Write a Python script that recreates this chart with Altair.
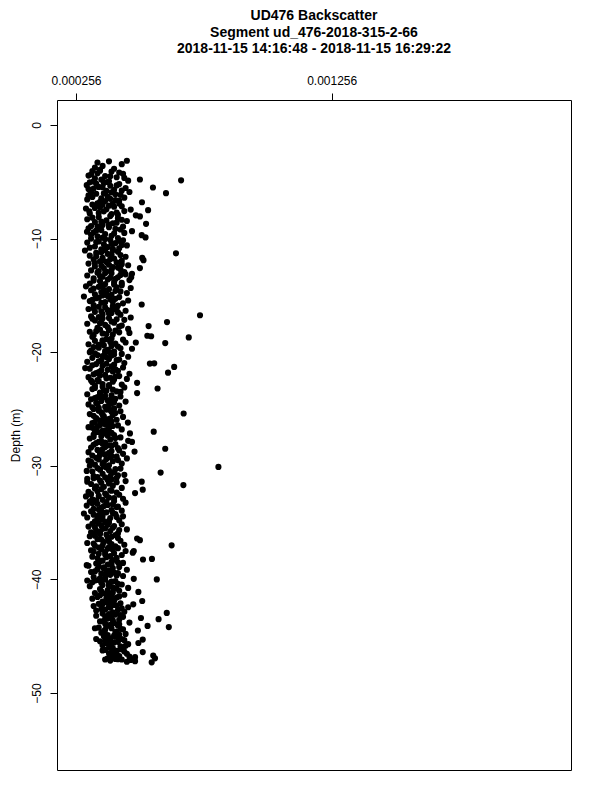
import altair as alt
import pandas as pd

title_lines = [
    "UD476 Backscatter",
    "Segment ud_476-2018-315-2-66",
    "2018-11-15 14:16:48 - 2018-11-15 16:29:22",
]
x_ticks = [0.000256, 0.001256]
y_ticks = [0, -10, -20, -30, -40, -50]

# depth (m) and backscatter values, read band by band (1 m bands)
depth = [
    -3.15, -3.2, -3.3, -3.45, -3.6, -3.75, -3.85, -3.95,
    -4.05, -4.1, -4.25, -4.3, -4.45, -4.5, -4.6, -4.7, -4.8, -4.9, -4.95,
    -5.05, -5.1, -5.2, -5.3, -5.35, -5.45, -5.55, -5.6, -5.7, -5.8, -5.9, -5.95,
    -6.05, -6.1, -6.2, -6.3, -6.4, -6.45, -6.55, -6.65, -6.7, -6.8, -6.9, -6.95,
    -7.0, -7.1, -7.15, -7.25, -7.35, -7.45, -7.5, -7.6, -7.7, -7.8, -7.85, -7.95,
    -8.05, -8.1, -8.2, -8.3, -8.4, -8.45, -8.55, -8.65, -8.7, -8.8, -8.9, -8.95,
    -9.0, -9.1, -9.2, -9.25, -9.35, -9.45, -9.55, -9.6, -9.7, -9.8, -9.9, -9.95,
    -10.0, -10.1, -10.15, -10.25, -10.35, -10.4, -10.5, -10.6, -10.7, -10.75, -10.85, -10.95,
    -11.0, -11.05, -11.15, -11.25, -11.3, -11.4, -11.5, -11.6, -11.7, -11.75, -11.85, -11.95,
    -12.0, -12.1, -12.2, -12.3, -12.35, -12.45, -12.5, -12.6, -12.7, -12.8, -12.9, -12.95,
    -13.0, -13.05, -13.15, -13.25, -13.35, -13.4, -13.5, -13.6, -13.65, -13.75, -13.85, -13.95,
    -14.0, -14.1, -14.2, -14.25, -14.35, -14.45, -14.55, -14.6, -14.7, -14.8, -14.9, -14.95,
    -15.0, -15.1, -15.15, -15.25, -15.35, -15.45, -15.5, -15.6, -15.7, -15.8, -15.85, -15.95,
    -16.0, -16.1, -16.2, -16.3, -16.35, -16.45, -16.55, -16.65, -16.7, -16.75, -16.85, -16.95,
    -17.0, -17.05, -17.15, -17.25, -17.35, -17.4, -17.5, -17.6, -17.7, -17.75, -17.85, -17.95,
    -18.0, -18.1, -18.2, -18.3, -18.4, -18.5, -18.55, -18.6, -18.7, -18.8, -18.9, -18.95,
    -19.0, -19.1, -19.15, -19.2, -19.3, -19.4, -19.5, -19.6, -19.7, -19.8, -19.85, -19.95,
    -20.0, -20.05, -20.15, -20.25, -20.3, -20.4, -20.5, -20.6, -20.7, -20.75, -20.85, -20.95,
    -21.0, -21.05, -21.1, -21.2, -21.3, -21.35, -21.45, -21.55, -21.65, -21.75, -21.8, -21.9, -21.95,
    -22.0, -22.1, -22.2, -22.25, -22.35, -22.45, -22.5, -22.6, -22.7, -22.8, -22.85, -22.95,
    -23.0, -23.1, -23.2, -23.25, -23.35, -23.45, -23.55, -23.6, -23.7, -23.8, -23.9, -23.95,
    -24.0, -24.1, -24.15, -24.25, -24.35, -24.45, -24.5, -24.6, -24.7, -24.8, -24.9, -24.95,
    -25.0, -25.1, -25.2, -25.3, -25.4, -25.45, -25.55, -25.65, -25.7, -25.8, -25.9, -25.95,
    -26.0, -26.1, -26.2, -26.25, -26.35, -26.45, -26.55, -26.6, -26.7, -26.8, -26.9, -26.95,
    -27.0, -27.05, -27.15, -27.25, -27.3, -27.4, -27.5, -27.6, -27.7, -27.8, -27.9, -27.95,
    -28.0, -28.1, -28.2, -28.3, -28.4, -28.5, -28.55, -28.65, -28.7, -28.8, -28.9, -28.95,
    -29.0, -29.1, -29.2, -29.25, -29.35, -29.45, -29.55, -29.6, -29.7, -29.8, -29.9, -29.95,
    -30.0, -30.1, -30.15, -30.25, -30.35, -30.45, -30.55, -30.6, -30.7, -30.8, -30.9, -30.95,
    -31.0, -31.05, -31.15, -31.25, -31.35, -31.4, -31.5, -31.6, -31.7, -31.75, -31.85, -31.95,
    -32.0, -32.1, -32.2, -32.3, -32.4, -32.45, -32.55, -32.65, -32.7, -32.8, -32.9, -32.95,
    -33.0, -33.1, -33.15, -33.25, -33.35, -33.45, -33.5, -33.6, -33.7, -33.8, -33.9, -33.95,
    -34.0, -34.1, -34.2, -34.25, -34.35, -34.45, -34.55, -34.6, -34.7, -34.8, -34.9, -34.95,
    -35.0, -35.1, -35.15, -35.25, -35.35, -35.45, -35.5, -35.6, -35.7, -35.75, -35.85, -35.95,
    -36.0, -36.1, -36.2, -36.3, -36.4, -36.45, -36.55, -36.6, -36.7, -36.8, -36.9, -36.95,
    -37.0, -37.05, -37.15, -37.25, -37.35, -37.45, -37.5, -37.6, -37.7, -37.75, -37.85, -37.95,
    -38.0, -38.1, -38.2, -38.25, -38.35, -38.45, -38.55, -38.6, -38.7, -38.8, -38.9, -38.95,
    -39.0, -39.1, -39.15, -39.25, -39.35, -39.45, -39.5, -39.6, -39.7, -39.8, -39.85, -39.95,
    -40.0, -40.05, -40.15, -40.25, -40.35, -40.45, -40.5, -40.6, -40.7, -40.75, -40.85, -40.95,
    -41.0, -41.1, -41.2, -41.25, -41.35, -41.45, -41.55, -41.6, -41.7, -41.8, -41.9, -41.95,
    -42.0, -42.1, -42.15, -42.25, -42.35, -42.45, -42.5, -42.6, -42.7, -42.75, -42.85, -42.95,
    -43.0, -43.1, -43.2, -43.3, -43.4, -43.45, -43.5, -43.6, -43.7, -43.8, -43.9, -43.95,
    -44.0, -44.1, -44.2, -44.25, -44.35, -44.45, -44.5, -44.6, -44.7, -44.8, -44.9, -44.95,
    -45.0, -45.1, -45.2, -45.3, -45.35, -45.45, -45.55, -45.6, -45.7, -45.8, -45.9, -45.95,
    -46.0, -46.1, -46.2, -46.3, -46.4, -46.45, -46.55, -46.6, -46.7, -46.75, -46.85, -46.95,
    -47.0, -47.05, -47.1, -47.2, -47.3,
]

backscatter = [
    4.55e-4, 3.85e-4, 3.40e-4, 4.35e-4, 3.60e-4, 3.30e-4, 4.05e-4, 3.50e-4,
    3.20e-4, 3.95e-4, 3.40e-4, 4.40e-4, 3.05e-4, 3.70e-4, 4.15e-4, 3.30e-4, 3.55e-4, 4.60e-4, 3.85e-4,
    3.10e-4, 3.65e-4, 4.25e-4, 2.98e-4, 3.90e-4, 3.45e-4, 4.50e-4, 3.25e-4, 4.05e-4, 3.75e-4, 4.65e-4, 3.15e-4,
    3.35e-4, 4.10e-4, 3.05e-4, 3.80e-4, 4.45e-4, 3.55e-4, 3.00e-4, 4.25e-4, 3.70e-4, 5.14e-4, 3.40e-4, 4.00e-4,
    3.20e-4, 3.85e-4, 4.35e-4, 3.50e-4, 2.95e-4, 4.70e-4, 5.38e-4, 3.65e-4, 4.15e-4, 3.10e-4, 3.95e-4, 4.90e-4,
    5.06e-4, 3.45e-4, 4.20e-4, 3.00e-4, 3.75e-4, 4.55e-4, 3.30e-4, 4.00e-4, 5.30e-4, 3.60e-4, 3.15e-4, 4.40e-4,
    3.85e-4, 3.05e-4, 4.30e-4, 3.55e-4, 4.75e-4, 3.25e-4, 4.05e-4, 3.70e-4, 5.13e-4, 3.40e-4, 5.28e-4, 4.20e-4,
    3.15e-4, 3.90e-4, 4.40e-4, 3.45e-4, 3.00e-4, 4.10e-4, 3.65e-4, 4.55e-4, 3.30e-4, 3.80e-4, 4.25e-4, 3.55e-4,
    3.70e-4, 2.91e-4, 4.20e-4, 3.35e-4, 6.47e-4, 3.95e-4, 3.10e-4, 4.50e-4, 3.60e-4, 4.05e-4, 3.25e-4, 4.35e-4,
    3.50e-4, 4.15e-4, 3.05e-4, 3.85e-4, 4.60e-4, 3.30e-4, 4.00e-4, 3.65e-4, 4.30e-4, 3.15e-4, 3.75e-4, 4.45e-4,
    3.40e-4, 3.95e-4, 4.50e-4, 3.00e-4, 3.60e-4, 4.20e-4, 3.25e-4, 3.80e-4, 4.65e-4, 3.50e-4, 4.05e-4, 3.10e-4,
    3.70e-4, 4.35e-4, 2.95e-4, 3.45e-4, 4.70e-4, 3.85e-4, 3.15e-4, 4.10e-4, 3.55e-4, 4.55e-4, 3.30e-4, 3.95e-4,
    3.60e-4, 2.87e-4, 4.25e-4, 3.35e-4, 3.90e-4, 4.60e-4, 3.10e-4, 3.70e-4, 4.40e-4, 5.13e-4, 3.25e-4, 4.00e-4,
    3.45e-4, 4.15e-4, 3.05e-4, 3.80e-4, 4.50e-4, 3.30e-4, 3.95e-4, 3.60e-4, 4.30e-4, 7.41e-4, 3.15e-4, 4.70e-4,
    3.85e-4, 3.20e-4, 4.45e-4, 3.55e-4, 6.12e-4, 4.05e-4, 3.00e-4, 3.70e-4, 5.40e-4, 4.25e-4, 3.40e-4, 4.60e-4,
    3.50e-4, 4.10e-4, 3.10e-4, 4.65e-4, 3.75e-4, 3.25e-4, 5.35e-4, 5.50e-4, 6.97e-4, 3.95e-4, 4.40e-4, 3.60e-4,
    3.30e-4, 3.90e-4, 4.50e-4, 6.05e-4, 3.05e-4, 3.65e-4, 4.20e-4, 3.45e-4, 4.75e-4, 3.80e-4, 3.15e-4, 4.05e-4,
    3.10e-4, 3.70e-4, 4.35e-4, 3.40e-4, 3.95e-4, 4.60e-4, 3.20e-4, 3.85e-4, 4.15e-4, 3.55e-4, 3.00e-4, 4.45e-4,
    5.45e-4, 3.35e-4, 4.05e-4, 3.60e-4, 6.40e-4, 4.40e-4, 3.10e-4, 3.80e-4, 4.20e-4, 3.45e-4, 6.16e-4, 4.65e-4, 3.25e-4,
    3.70e-4, 4.25e-4, 3.05e-4, 3.90e-4, 4.55e-4, 3.40e-4, 3.15e-4, 4.00e-4, 4.95e-4, 3.60e-4, 4.35e-4, 3.30e-4,
    3.85e-4, 4.45e-4, 5.75e-4, 3.20e-4, 3.65e-4, 4.15e-4, 3.50e-4, 4.95e-4, 3.00e-4, 3.95e-4, 4.30e-4, 3.40e-4,
    3.60e-4, 4.10e-4, 3.15e-4, 3.80e-4, 4.50e-4, 3.35e-4, 3.95e-4, 3.05e-4, 4.25e-4, 3.70e-4, 3.45e-4, 4.05e-4,
    3.25e-4, 3.90e-4, 4.30e-4, 3.55e-4, 6.77e-4, 3.10e-4, 4.00e-4, 3.65e-4, 4.40e-4, 3.35e-4, 3.80e-4, 4.15e-4,
    3.50e-4, 3.95e-4, 4.59e-4, 3.20e-4, 3.70e-4, 4.20e-4, 3.40e-4, 3.05e-4, 3.85e-4, 4.35e-4, 3.60e-4, 3.30e-4,
    5.60e-4, 3.75e-4, 4.67e-4, 3.25e-4, 4.05e-4, 3.55e-4, 4.30e-4, 3.10e-4, 3.90e-4, 4.60e-4, 3.45e-4, 3.70e-4,
    3.35e-4, 4.10e-4, 3.80e-4, 4.45e-4, 3.15e-4, 6.05e-4, 3.60e-4, 4.25e-4, 3.95e-4, 3.05e-4, 3.50e-4, 4.40e-4,
    3.70e-4, 3.20e-4, 4.15e-4, 3.90e-4, 4.55e-4, 3.45e-4, 3.05e-4, 4.00e-4, 3.65e-4, 4.35e-4, 3.30e-4, 3.85e-4,
    3.10e-4, 8.13e-4, 3.75e-4, 4.30e-4, 3.50e-4, 2.98e-4, 4.05e-4, 5.87e-4, 3.60e-4, 4.45e-4, 3.25e-4, 3.90e-4,
    3.40e-4, 4.15e-4, 3.00e-4, 3.80e-4, 4.50e-4, 5.13e-4, 3.55e-4, 3.15e-4, 6.76e-4, 4.00e-4, 3.65e-4, 4.35e-4,
    3.30e-4, 5.17e-4, 3.95e-4, 3.05e-4, 4.87e-4, 3.70e-4, 4.25e-4, 3.45e-4, 2.95e-4, 3.85e-4, 4.40e-4, 3.20e-4,
    3.60e-4, 4.05e-4, 3.10e-4, 4.50e-4, 3.40e-4, 3.80e-4, 2.98e-4, 4.20e-4, 3.55e-4, 3.25e-4, 3.95e-4, 4.35e-4,
    3.15e-4, 3.75e-4, 2.87e-4, 4.10e-4, 3.45e-4, 4.40e-4, 3.00e-4, 3.90e-4, 3.60e-4, 4.25e-4, 3.30e-4, 3.70e-4,
    3.85e-4, 3.20e-4, 4.35e-4, 3.55e-4, 3.05e-4, 4.00e-4, 3.70e-4, 4.55e-4, 3.35e-4, 3.90e-4, 3.15e-4, 4.20e-4,
    3.50e-4, 4.10e-4, 3.10e-4, 3.80e-4, 4.95e-4, 3.40e-4, 5.06e-4, 4.30e-4, 3.65e-4, 3.00e-4, 3.95e-4, 4.45e-4,
    6.30e-4, 3.30e-4, 3.85e-4, 4.20e-4, 3.55e-4, 3.15e-4, 4.50e-4, 3.70e-4, 4.05e-4, 3.45e-4, 4.35e-4, 3.90e-4,
    3.20e-4, 4.15e-4, 5.53e-4, 5.18e-4, 3.60e-4, 3.95e-4, 4.40e-4, 3.35e-4, 3.80e-4, 3.05e-4, 4.25e-4, 3.65e-4,
    4.00e-4, 3.40e-4, 4.55e-4, 3.75e-4, 3.15e-4, 4.20e-4, 3.55e-4, 3.90e-4, 4.40e-4, 3.25e-4, 3.70e-4, 4.82e-4,
    5.72e-4, 3.45e-4, 4.10e-4, 3.20e-4, 3.85e-4, 4.35e-4, 3.60e-4, 3.10e-4, 4.00e-4, 4.60e-4, 3.50e-4, 3.80e-4,
    4.25e-4, 5.00e-4, 3.30e-4, 3.70e-4, 4.45e-4, 3.95e-4, 3.40e-4, 4.15e-4, 3.20e-4, 3.85e-4, 5.15e-4, 3.60e-4,
    3.75e-4, 4.30e-4, 3.45e-4, 4.05e-4, 3.25e-4, 4.60e-4, 3.90e-4, 3.55e-4, 4.20e-4, 3.35e-4, 4.45e-4, 6.11e-4,
    3.60e-4, 4.10e-4, 3.35e-4, 4.40e-4, 5.10e-4, 3.80e-4, 5.79e-4, 4.00e-4, 3.50e-4, 4.65e-4, 3.70e-4, 4.25e-4,
    3.90e-4, 5.36e-4, 6.19e-4, 3.45e-4, 4.30e-4, 3.70e-4, 4.98e-4, 4.15e-4, 3.55e-4, 4.50e-4, 3.80e-4, 4.05e-4,
    3.65e-4, 4.20e-4, 3.90e-4, 5.17e-4, 4.45e-4, 3.50e-4, 4.05e-4, 3.75e-4, 4.60e-4, 3.60e-4, 4.30e-4, 3.95e-4,
    3.85e-4, 4.40e-4, 3.70e-4, 4.15e-4, 5.17e-4, 3.95e-4, 4.55e-4, 4.05e-4, 5.58e-4, 4.25e-4, 4.87e-4, 3.80e-4,
    4.10e-4, 4.35e-4, 4.70e-4, 4.87e-4, 5.52e-4,
]

# further samples inside the dense core of the profile
core_depth = [
    -4.02, -4.18, -4.36, -4.52, -4.66, -4.83, -4.97,
    -5.02, -5.16, -5.32, -5.48, -5.64, -5.77, -5.93,
    -6.02, -6.15, -6.34, -6.5, -6.6, -6.76, -6.92,
    -7.03, -7.2, -7.3, -7.42, -7.58, -7.74, -7.9,
    -8.02, -8.16, -8.34, -8.5, -8.6, -8.76, -8.92,
    -9.04, -9.15, -9.3, -9.5, -9.66, -9.75, -9.92,
    -10.04, -10.2, -10.3, -10.45, -10.56, -10.8, -10.9,
    -11.02, -11.2, -11.35, -11.45, -11.55, -11.8, -11.9,
    -12.05, -12.15, -12.25, -12.4, -12.55, -12.75, -12.85,
    -13.02, -13.2, -13.3, -13.45, -13.55, -13.7, -13.9,
    -14.05, -14.15, -14.3, -14.4, -14.5, -14.65, -14.85,
    -15.05, -15.2, -15.3, -15.4, -15.55, -15.65, -15.9,
    -16.05, -16.15, -16.25, -16.4, -16.5, -16.6, -16.9,
    -17.02, -17.1, -17.2, -17.3, -17.45, -17.65, -17.8,
    -18.05, -18.15, -18.25, -18.35, -18.45, -18.65, -18.85,
    -19.05, -19.25, -19.35, -19.45, -19.55, -19.65, -19.9,
    -20.02, -20.1, -20.2, -20.35, -20.45, -20.65, -20.8,
    -21.02, -21.15, -21.25, -21.5, -21.6, -21.7, -21.85,
    -22.05, -22.15, -22.3, -22.4, -22.55, -22.65, -22.9,
    -23.05, -23.15, -23.3, -23.4, -23.5, -23.65, -23.85,
    -24.05, -24.2, -24.3, -24.4, -24.55, -24.65, -24.85,
    -25.05, -25.15, -25.25, -25.35, -25.5, -25.6, -25.85,
    -26.05, -26.15, -26.3, -26.4, -26.5, -26.65, -26.85,
    -27.02, -27.1, -27.2, -27.35, -27.45, -27.55, -27.85,
    -28.05, -28.15, -28.25, -28.35, -28.45, -28.6, -28.85,
    -29.05, -29.15, -29.3, -29.4, -29.5, -29.65, -29.85,
    -30.05, -30.2, -30.3, -30.4, -30.5, -30.65, -30.85,
    -31.02, -31.1, -31.2, -31.3, -31.45, -31.55, -31.8,
    -32.05, -32.15, -32.25, -32.35, -32.5, -32.6, -32.85,
    -33.05, -33.2, -33.3, -33.4, -33.55, -33.65, -33.85,
    -34.05, -34.15, -34.3, -34.4, -34.5, -34.65, -34.85,
    -35.05, -35.2, -35.3, -35.4, -35.55, -35.65, -35.8,
    -36.05, -36.15, -36.25, -36.35, -36.5, -36.65, -36.85,
    -37.02, -37.1, -37.2, -37.3, -37.4, -37.55, -37.8,
    -38.05, -38.15, -38.3, -38.4, -38.5, -38.65, -38.85,
    -39.05, -39.2, -39.3, -39.4, -39.55, -39.65, -39.9,
    -40.02, -40.1, -40.2, -40.3, -40.4, -40.55, -40.8,
    -41.05, -41.15, -41.3, -41.4, -41.5, -41.65, -41.85,
    -42.05, -42.2, -42.3, -42.4, -42.55, -42.65, -42.9,
    -43.05, -43.15, -43.25, -43.35, -43.55, -43.65, -43.85,
    -44.05, -44.15, -44.3, -44.4, -44.55, -44.65, -44.85,
    -45.05, -45.15, -45.25, -45.4, -45.5, -45.65, -45.85,
    -46.05, -46.15, -46.25, -46.35, -46.5, -46.65, -46.8,
    -47.02, -47.15, -47.25,
]
core_backscatter = [
    3.50e-4, 4.25e-4, 3.15e-4, 3.90e-4, 4.45e-4, 3.60e-4, 3.25e-4,
    3.80e-4, 3.35e-4, 4.15e-4, 3.60e-4, 3.05e-4, 4.35e-4, 3.95e-4,
    3.65e-4, 4.30e-4, 3.20e-4, 3.90e-4, 4.10e-4, 3.50e-4, 4.25e-4,
    3.60e-4, 4.05e-4, 3.30e-4, 3.75e-4, 4.45e-4, 3.45e-4, 4.20e-4,
    3.90e-4, 3.20e-4, 4.35e-4, 3.55e-4, 4.15e-4, 3.85e-4, 3.40e-4,
    3.50e-4, 4.10e-4, 3.35e-4, 4.45e-4, 3.15e-4, 3.95e-4, 3.60e-4,
    3.70e-4, 4.25e-4, 3.35e-4, 3.95e-4, 4.35e-4, 3.10e-4, 4.00e-4,
    4.00e-4, 3.55e-4, 3.80e-4, 4.30e-4, 3.35e-4, 3.90e-4, 3.60e-4,
    3.75e-4, 3.30e-4, 4.35e-4, 3.55e-4, 4.20e-4, 3.95e-4, 3.45e-4,
    3.70e-4, 4.30e-4, 3.50e-4, 3.90e-4, 4.10e-4, 3.25e-4, 4.35e-4,
    4.05e-4, 3.60e-4, 4.15e-4, 3.25e-4, 3.65e-4, 4.30e-4, 3.75e-4,
    3.80e-4, 3.45e-4, 4.10e-4, 3.20e-4, 4.00e-4, 3.55e-4, 4.20e-4,
    3.70e-4, 3.25e-4, 4.00e-4, 3.55e-4, 4.20e-4, 3.85e-4, 3.45e-4,
    3.60e-4, 4.15e-4, 3.30e-4, 3.95e-4, 3.50e-4, 4.35e-4, 3.80e-4,
    3.85e-4, 3.35e-4, 4.25e-4, 3.60e-4, 4.00e-4, 3.20e-4, 3.75e-4,
    3.60e-4, 4.10e-4, 3.45e-4, 3.95e-4, 3.25e-4, 4.30e-4, 3.70e-4,
    3.90e-4, 3.30e-4, 4.05e-4, 3.60e-4, 3.75e-4, 4.25e-4, 3.45e-4,
    3.75e-4, 3.20e-4, 3.95e-4, 4.10e-4, 3.55e-4, 4.00e-4, 3.35e-4,
    3.50e-4, 4.10e-4, 3.75e-4, 4.05e-4, 3.45e-4, 3.20e-4, 3.85e-4,
    3.60e-4, 3.30e-4, 4.00e-4, 3.75e-4, 4.30e-4, 3.50e-4, 3.70e-4,
    3.30e-4, 3.90e-4, 3.55e-4, 4.05e-4, 3.40e-4, 3.85e-4, 3.20e-4,
    3.75e-4, 3.45e-4, 3.95e-4, 4.10e-4, 3.60e-4, 3.25e-4, 3.90e-4,
    3.65e-4, 3.30e-4, 3.85e-4, 3.50e-4, 4.00e-4, 3.20e-4, 3.75e-4,
    3.40e-4, 3.95e-4, 3.60e-4, 3.80e-4, 3.25e-4, 4.10e-4, 3.55e-4,
    3.60e-4, 3.25e-4, 3.95e-4, 3.70e-4, 4.20e-4, 3.40e-4, 3.85e-4,
    3.50e-4, 3.95e-4, 3.35e-4, 3.75e-4, 4.20e-4, 3.15e-4, 3.60e-4,
    3.65e-4, 3.40e-4, 4.10e-4, 3.85e-4, 3.20e-4, 3.95e-4, 4.20e-4,
    3.70e-4, 3.25e-4, 3.95e-4, 3.50e-4, 4.15e-4, 3.85e-4, 3.35e-4,
    3.55e-4, 3.90e-4, 3.40e-4, 4.15e-4, 3.15e-4, 3.75e-4, 4.05e-4,
    3.35e-4, 3.75e-4, 3.20e-4, 4.00e-4, 3.65e-4, 4.15e-4, 3.45e-4,
    3.55e-4, 4.00e-4, 3.25e-4, 3.60e-4, 4.15e-4, 3.40e-4, 3.85e-4,
    3.45e-4, 3.80e-4, 4.05e-4, 3.30e-4, 3.60e-4, 4.25e-4, 3.50e-4,
    3.75e-4, 3.30e-4, 3.95e-4, 4.20e-4, 3.55e-4, 3.85e-4, 3.25e-4,
    3.60e-4, 4.10e-4, 3.45e-4, 3.80e-4, 4.00e-4, 3.25e-4, 3.70e-4,
    3.75e-4, 3.40e-4, 4.00e-4, 3.50e-4, 4.20e-4, 3.95e-4, 3.45e-4,
    3.65e-4, 3.90e-4, 3.30e-4, 4.05e-4, 3.75e-4, 4.15e-4, 3.50e-4,
    3.70e-4, 3.30e-4, 3.95e-4, 3.55e-4, 4.20e-4, 3.85e-4, 4.15e-4,
    3.55e-4, 4.00e-4, 3.85e-4, 3.50e-4, 4.25e-4, 3.75e-4, 4.05e-4,
    3.95e-4, 3.60e-4, 4.15e-4, 3.85e-4, 4.35e-4, 3.70e-4, 4.00e-4,
    3.85e-4, 4.30e-4, 3.70e-4, 3.95e-4, 4.25e-4, 3.65e-4, 4.05e-4,
    4.20e-4, 3.75e-4, 3.95e-4, 4.40e-4, 3.65e-4, 4.10e-4, 4.25e-4,
    4.10e-4, 3.80e-4, 4.35e-4, 3.70e-4, 4.20e-4, 3.90e-4, 4.50e-4,
    4.00e-4, 4.30e-4, 3.60e-4, 4.45e-4, 3.85e-4, 4.15e-4, 4.65e-4,
    4.20e-4, 3.90e-4, 4.55e-4,
]

# scattered samples off the main band
extra_depth = [
    -4.87, -4.8, -5.5, -6.0, -20.98, -11.7, -11.9, -12.6, -13.1, -13.4,
    -19.15, -27.9, -28.75, -37.5, -37.65, -42.2, -45.6, -46.95, -47.05, -46.9,
    -44.3, -45.25, -38.75, -40.1, -21.4, -31.4, -9.4, -7.6,
]
extra_backscatter = [
    6.67e-4, 5.06e-4, 5.57e-4, 6.08e-4, 5.62e-4, 5.15e-4, 5.20e-4, 5.06e-4, 4.75e-4, 4.72e-4,
    4.90e-4, 4.75e-4, 4.85e-4, 4.82e-4, 4.78e-4, 4.80e-4, 5.00e-4, 5.65e-4, 3.70e-4, 3.95e-4,
    3.30e-4, 3.35e-4, 2.98e-4, 3.00e-4, 2.92e-4, 3.00e-4, 2.99e-4, 3.08e-4,
]

n1 = min(len(depth), len(backscatter))
n2 = min(len(core_depth), len(core_backscatter))
n3 = min(len(extra_depth), len(extra_backscatter))
df = pd.DataFrame({
    "depth": depth[:n1] + core_depth[:n2] + extra_depth[:n3],
    "backscatter": backscatter[:n1] + core_backscatter[:n2] + extra_backscatter[:n3],
})

FONT = "Liberation Sans"

chart = alt.Chart(df).mark_circle(size=38, color="black", opacity=1).encode(
    x=alt.X(
        "backscatter:Q",
        title=None,
        scale=alt.Scale(domain=[0.0001817, 0.002192], nice=False, zero=False),
        axis=alt.Axis(
            orient="top", values=x_ticks, format=".6f", grid=False, domain=False,
            tickSize=7, tickColor="black", labelColor="black", labelFont=FONT,
            labelFontSize=12, labelPadding=9, labelBaseline="alphabetic",
            labelFlush=False, labelOverlap=False,
        ),
    ),
    y=alt.Y(
        "depth:Q",
        title="Depth (m)",
        scale=alt.Scale(domain=[-56.78, 2.2], nice=False, zero=False),
        axis=alt.Axis(
            values=y_ticks, grid=False, domain=False, tickSize=7, tickColor="black",
            labelColor="black", labelFont=FONT, labelFontSize=12, labelAngle=270,
            labelAlign="center", labelBaseline="alphabetic", labelPadding=10,
            labelOverlap=False, labelFlush=False,
            titleFont=FONT, titleFontSize=12, titleFontWeight="normal", titleColor="black",
            titleAngle=270, titleAlign="center", titleBaseline="alphabetic",
            titleX=-38, titleY=335,
        ),
    ),
).properties(
    width=514,
    height=670,
    title=alt.TitleParams(
        text=title_lines, font=FONT, fontSize=14, fontWeight="bold", color="black",
        anchor="middle", frame="group", lineHeight=16.5, offset=18,
    ),
    padding={"left": 49, "top": 92, "right": 21, "bottom": 22},
    autosize=alt.AutoSizeParams(type="none"),
).configure_view(stroke="black", strokeWidth=1)

chart.save("out.html", embed_options={"renderer": "svg", "actions": False})
